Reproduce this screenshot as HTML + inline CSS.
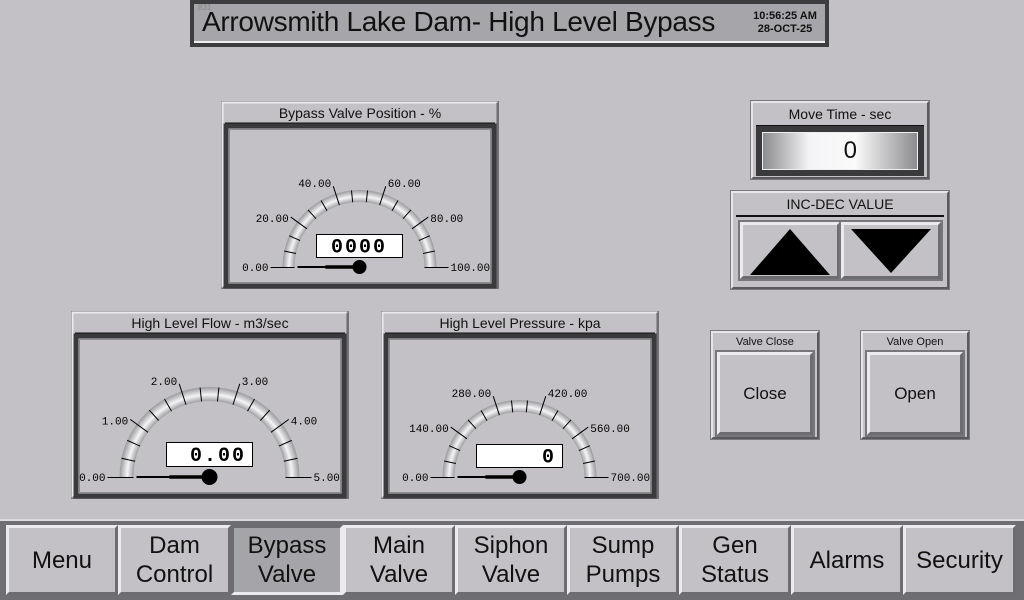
<!DOCTYPE html>
<html><head><meta charset="utf-8">
<style>
body{margin:0;width:1024px;height:600px;background:#c3c1c5;position:relative;overflow:hidden;font-family:"Liberation Sans",sans-serif;}
.abs{position:absolute;box-sizing:border-box;}
.panel{position:absolute;box-sizing:border-box;background:#c3c1c5;border:2px solid;border-color:#e6e4e8 #5a595c #5a595c #e6e4e8;outline:1px solid #7a797c;}
.ptitle{position:absolute;left:3px;right:3px;top:0;text-align:center;color:#111;border-bottom:2px solid #111;}
.btn{position:absolute;box-sizing:border-box;background:#c3c1c5;border:3px solid;border-color:#eceaee #6d6c70 #6d6c70 #eceaee;outline:2px solid #77767a;display:flex;align-items:center;justify-content:center;text-align:center;color:#111;}
.navbtn{position:absolute;top:525px;height:70px;box-sizing:border-box;background:#c3c1c5;border:3px solid;border-color:#eceaee #6d6c70 #6d6c70 #eceaee;display:flex;align-items:center;justify-content:center;text-align:center;font-size:24px;line-height:29px;color:#111;}
</style></head>
<body>
<div class="abs" style="left:190px;top:0;width:639px;height:47px;background:#3d3c3f;padding:4px;">
 <div class="abs" style="left:4px;top:4px;right:4px;bottom:4px;background:#a6a5a9;border-bottom:2px solid #eee;"></div>
 <div class="abs" style="left:8px;top:3px;font-size:8px;color:#888;">831</div>
 <div class="abs" style="left:12px;top:6px;font-size:28px;color:#111;white-space:nowrap;letter-spacing:-0.3px;">Arrowsmith Lake Dam- High Level Bypass</div>
 <div class="abs" style="left:557px;top:10px;width:76px;font-size:11px;font-weight:bold;line-height:13px;text-align:center;color:#111;">10:56:25 AM<br>28-OCT-25</div>
</div>

<svg class="abs" style="left:0;top:0" width="1024" height="520" id="gsvg"></svg>

<div class="panel" style="left:751px;top:101px;width:178px;height:78px;">
 <div class="ptitle" style="top:3px;font-size:14px;height:19px;line-height:17px;">Move Time - sec</div>
 <div class="abs" style="left:3px;top:23px;width:168px;height:50px;background:#3a393c;padding:4px;"></div>
 <div class="abs" style="left:9px;top:29px;width:156px;height:38px;border:1px solid #eee;background:linear-gradient(90deg,#8c8b8f 0%,#f4f4f6 30%,#fafafa 60%,#8c8b8f 100%);font-size:24px;text-align:right;padding-right:60px;line-height:36px;color:#111;">0</div>
</div>

<div class="panel" style="left:731px;top:191px;width:218px;height:98px;">
 <div class="ptitle" style="top:3px;font-size:14px;height:19px;line-height:17px;">INC-DEC VALUE</div>
 <div class="btn" style="left:7px;top:29px;width:100px;height:57px;">
  <svg width="84" height="48" viewBox="0 0 84 48"><polygon points="42,2 2,48 82,48" fill="#000"/></svg></div>
 <div class="btn" style="left:108px;top:29px;width:100px;height:57px;">
  <svg width="84" height="48" viewBox="0 0 84 48"><polygon points="2,2 82,2 42,46" fill="#000"/></svg></div>
</div>

<div class="panel" style="left:711px;top:331px;width:108px;height:108px;">
 <div class="ptitle" style="top:1px;font-size:11px;height:16px;line-height:16px;">Valve Close</div>
 <div class="btn" style="left:4px;top:19px;width:96px;height:83px;font-size:17px;">Close</div>
</div>
<div class="panel" style="left:861px;top:331px;width:108px;height:108px;">
 <div class="ptitle" style="top:1px;font-size:11px;height:16px;line-height:16px;">Valve Open</div>
 <div class="btn" style="left:4px;top:19px;width:96px;height:83px;font-size:17px;">Open</div>
</div>

<div class="abs" style="left:0;top:519px;width:1024px;height:81px;background:#6f6e72;border-top:2px solid #dcdadf;"></div>
<div class="navbtn" style="left:6px;width:112px;">Menu</div>
<div class="navbtn" style="left:118px;width:113px;">Dam<br>Control</div>
<div class="navbtn" style="left:231px;width:112px;background:#a5a4a8;border-color:#6d6c70 #eceaee #eceaee #6d6c70;">Bypass<br>Valve</div>
<div class="navbtn" style="left:343px;width:112px;">Main<br>Valve</div>
<div class="navbtn" style="left:455px;width:112px;">Siphon<br>Valve</div>
<div class="navbtn" style="left:567px;width:112px;">Sump<br>Pumps</div>
<div class="navbtn" style="left:679px;width:112px;">Gen<br>Status</div>
<div class="navbtn" style="left:791px;width:112px;">Alarms</div>
<div class="navbtn" style="left:903px;width:113px;">Security</div>

<script>
const gaugeTitles = ["Bypass Valve Position - %", "High Level Flow - m3/sec", "High Level Pressure - kpa"];
const gaugeMins = [0, 0, 0];
const gaugeMaxs = [100, 5, 700];
const gaugeValues = [0, 0, 0];
const gaugeReadouts = ["0000", "0.00", "0"];
const tickLabels0 = ["0.00","20.00","40.00","60.00","80.00","100.00"];
const tickLabels1 = ["0.00","1.00","2.00","3.00","4.00","5.00"];
const tickLabels2 = ["0.00","140.00","280.00","420.00","560.00","700.00"];
const tickLabelSets = [tickLabels0, tickLabels1, tickLabels2];

const layouts = [
 {px:221,py:101,cx:359.5,cy:267,r:77,bw:12,box:[316,234,86,23]},
 {px:71,py:311,cx:209.5,cy:477,r:90,bw:14,box:[166,442,86,24]},
 {px:381,py:311,cx:519.5,cy:477,r:77,bw:12,box:[476,444,86,23]}
];
const NS="http://www.w3.org/2000/svg";
const svg=document.getElementById('gsvg');
function mk(tag,attrs,parent){const e=document.createElementNS(NS,tag);for(const k in attrs)e.setAttribute(k,attrs[k]);(parent||svg).appendChild(e);return e;}

layouts.forEach((L,i)=>{
 const g=mk('g',{});
 
 
 mk('rect',{x:L.px+0.5,y:L.py+0.5,width:277,height:187,fill:'#c3c1c5',stroke:'#77767a'},g);
 mk('path',{d:`M${L.px+1.5} ${L.py+186.5}V${L.py+1.5}H${L.px+276.5}`,stroke:'#eceaee',fill:'none',"stroke-width":2},g);
 mk('path',{d:`M${L.px+276.5} ${L.py+1.5}V${L.py+186.5}H${L.px+1.5}`,stroke:'#6d6c70',fill:'none',"stroke-width":2},g);
 const t=mk('text',{x:L.px+139,y:L.py+17,"text-anchor":"middle","font-size":14,fill:'#111'},g);
 t.textContent=gaugeTitles[i];
 
 
 mk('line',{x1:L.px+4,x2:L.px+274,y1:L.py+22.5,y2:L.py+22.5,stroke:'#111',"stroke-width":2},g);
 mk('rect',{x:L.px+5,y:L.py+25,width:268,height:160,fill:'#c3c1c5',stroke:'#3a393c',"stroke-width":5},g);
 mk('rect',{x:L.px+8.5,y:L.py+28.5,width:261,height:153,fill:'none',stroke:'#8a898d',"stroke-width":1},g);
 const ro=L.r, ri=L.r-L.bw, cx=L.cx, cy=L.cy;
 const grad='gr'+i;
 const rg=mk('radialGradient',{id:grad,cx:cx,cy:cy,r:ro,gradientUnits:'userSpaceOnUse'},g);
 const f0=ri/ro;
 [[0,'#999'],[f0,'#a09fa3'],[f0+(1-f0)*0.45,'#f4f4f6'],[1,'#9a999d']].forEach(s=>mk('stop',{offset:s[0],"stop-color":s[1]},rg));
 mk('path',{d:`M${cx-ro} ${cy}A${ro} ${ro} 0 0 1 ${cx+ro} ${cy}L${cx+ri} ${cy}A${ri} ${ri} 0 0 0 ${cx-ri} ${cy}Z`,fill:`url(#${grad})`},g);
 const labels=tickLabelSets[i];
 const N=15;
 for(let k=0;k<=N;k++){
  const a=Math.PI*(1-k/N);
  const major=k%3===0;
  const r1=ri, r2=major?ro+8:ro;
  const c=Math.cos(a), s=Math.sin(a);
  if(k===0||k===N){
   const sx=k===0?-1:1;
   mk('line',{x1:cx+sx*ri,y1:cy+0.5,x2:cx+sx*(ro+12),y2:cy+0.5,stroke:'#000'},g);
  } else mk('line',{x1:cx+c*r1,y1:cy-s*r1,x2:cx+c*r2,y2:cy-s*r2,stroke:'#000'},g);
  if(major){
   const li=k/3;
   let lx,ly,anchor;
   if(k===0){lx=cx-ro-14;ly=cy+4;anchor='end';}
   else if(k===N){lx=cx+ro+14;ly=cy+4;anchor='start';}
   else {const rr=ro+8;lx=cx+c*rr+(c<0?-2:2);ly=cy-s*rr+(s>0.9?1:5);anchor=c<-0.1?'end':'start';}
   const tx=mk('text',{x:lx,y:ly,"text-anchor":anchor,"font-size":11,"font-family":'"Liberation Mono",monospace',fill:'#000'},g);
   tx.textContent=labels[li];
   
   
  }
 }
 const b=L.box;
 mk('rect',{x:b[0]+0.5,y:b[1]+0.5,width:b[2],height:b[3],fill:'#fff',stroke:'#000'},g);
 const rt=mk('text',{x:i===0?b[0]+b[2]/2:b[0]+b[2]-6,y:b[1]+b[3]/2+7,"text-anchor":i===0?'middle':'end',"font-size":20,"font-weight":"bold","font-family":'"Liberation Mono",monospace',fill:'#000',"letter-spacing":2},g);
 rt.textContent=gaugeReadouts[i];
 
 
 const frac=(gaugeValues[i]-gaugeMins[i])/(gaugeMaxs[i]-gaugeMins[i]);
 const na=Math.PI*(1-frac);
 const nl=ri-3;
 const nx=cx+Math.cos(na)*nl, ny=cy-Math.sin(na)*nl;
 const mx=cx+Math.cos(na)*nl*0.55, my=cy-Math.sin(na)*nl*0.55;
 const nd=mk('g',{},g);
 
 
 mk('line',{x1:cx,y1:cy,x2:nx,y2:ny,stroke:'#000',"stroke-width":2},nd);
 mk('line',{x1:cx,y1:cy,x2:mx,y2:my,stroke:'#000',"stroke-width":3.5},nd);
 mk('circle',{cx:cx,cy:cy,r:L.r>85?8:7,fill:'#000'},nd);
});
</script>
</body></html>
